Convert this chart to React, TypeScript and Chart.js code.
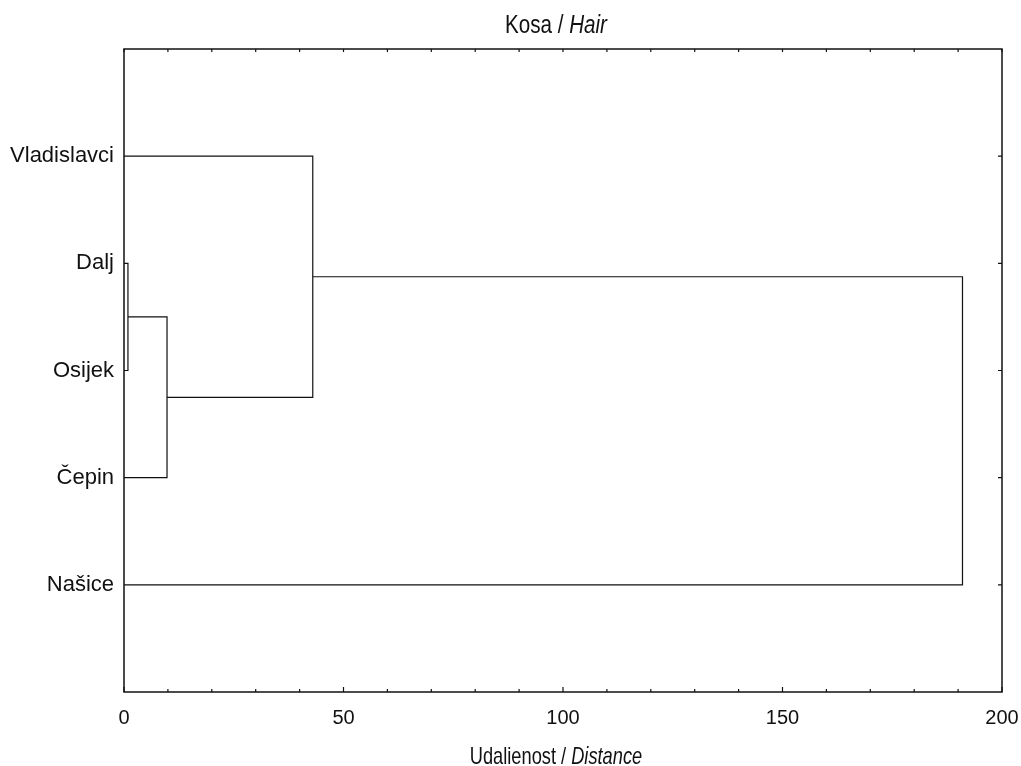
import React, { useEffect, useRef } from "react";
import { Chart, registerables } from "chart.js";

Chart.register(...registerables);

// ---- Data ----
const leafLabels = ["Vladislavci", "Dalj", "Osijek", "Čepin", "Našice"];
// Merge steps (indices: 0..4 = leaves, 5+ = merged clusters in order)
const mergeLeft = [1, 5, 0, 7];
const mergeRight = [2, 3, 6, 4];
const mergeHeight = [0.9, 9.8, 43, 191];
const xTickLabels = [0, 50, 100, 150, 200];
const xMinorStep = 10;
const titleRegular = "Kosa / ";
const titleItalic = "Hair";
const axisRegular = "Udalienost / ";
const axisItalic = "Distance";

const LINE = "#111";
const FONT = "'Liberation Sans', Arial, sans-serif";

function buildLinks() {
  const nodeX: number[] = leafLabels.map(() => 0);
  const nodeY: number[] = leafLabels.map((_, i) => i + 1);
  const links: { x: number; y: number }[][] = [];
  mergeHeight.forEach((h, k) => {
    const a = mergeLeft[k];
    const b = mergeRight[k];
    links.push([
      { x: nodeX[a], y: nodeY[a] },
      { x: h, y: nodeY[a] },
      { x: h, y: nodeY[b] },
      { x: nodeX[b], y: nodeY[b] },
    ]);
    nodeX.push(h);
    nodeY.push((nodeY[a] + nodeY[b]) / 2);
  });
  return links;
}

function drawMixed(
  ctx: CanvasRenderingContext2D,
  regular: string,
  italic: string,
  cx: number,
  baseline: number,
  size: number,
  sx: number
) {
  ctx.save();
  ctx.fillStyle = "#111";
  ctx.textBaseline = "alphabetic";
  ctx.textAlign = "left";
  const fr = `${size}px ${FONT}`;
  const fi = `italic ${size}px ${FONT}`;
  ctx.font = fr;
  const w1 = ctx.measureText(regular).width;
  ctx.font = fi;
  const w2 = ctx.measureText(italic).width;
  const total = (w1 + w2) * sx;
  ctx.translate(cx - total / 2, baseline);
  ctx.scale(sx, 1);
  ctx.font = fr;
  ctx.fillText(regular, 0, 0);
  ctx.font = fi;
  ctx.fillText(italic, w1, 0);
  ctx.restore();
}

const framePlugin = {
  id: "frameAndTitles",
  afterDatasetsDraw(chart: any) {
    const { ctx, chartArea } = chart;
    const { left, right, top, bottom } = chartArea;
    const xs = chart.scales.x;
    const ys = chart.scales.y;
    ctx.save();
    ctx.strokeStyle = LINE;
    ctx.lineWidth = 1.5;
    ctx.strokeRect(left, top, right - left, bottom - top);
    ctx.lineWidth = 1.2;
    ctx.beginPath();
    for (let v = xs.min; v <= xs.max + 1e-9; v += xMinorStep) {
      const px = xs.getPixelForValue(v);
      const major = xTickLabels.includes(v);
      const lenB = major ? 5 : 3;
      ctx.moveTo(px, bottom);
      ctx.lineTo(px, bottom - lenB);
      ctx.moveTo(px, top);
      ctx.lineTo(px, top + 3);
    }
    leafLabels.forEach((_, i) => {
      const py = ys.getPixelForValue(i + 1);
      ctx.moveTo(right, py);
      ctx.lineTo(right - 4, py);
    });
    ctx.stroke();
    ctx.restore();

    const cx = left + (right - left) * 0.492;
    drawMixed(ctx, titleRegular, titleItalic, cx, 33, 25, 0.825);
    drawMixed(ctx, axisRegular, axisItalic, cx, 764, 24, 0.76);
  },
};

export default function App() {
  const ref = useRef<HTMLCanvasElement | null>(null);

  useEffect(() => {
    if (!ref.current) return;
    const links = buildLinks();
    const chart = new Chart(ref.current, {
      type: "scatter",
      data: {
        datasets: links.map((pts) => ({
          data: pts,
          showLine: true,
          borderColor: LINE,
          borderWidth: 1.2,
          pointRadius: 0,
          fill: false,
          tension: 0,
        })),
      },
      options: {
        animation: false,
        responsive: false,
        events: [],
        layout: { padding: { left: 0, top: 49, right: 19, bottom: 0 } },
        plugins: {
          legend: { display: false },
          tooltip: { enabled: false },
          title: { display: false },
        },
        scales: {
          x: {
            type: "linear",
            min: 0,
            max: 200,
            grid: { display: false, drawTicks: false },
            border: { display: false },
            ticks: {
              stepSize: 50,
              color: "#111",
              padding: 14,
              font: { family: FONT, size: 20 },
              callback: (v: any) => (xTickLabels.includes(Number(v)) ? String(v) : ""),
            },
            afterFit: (s: any) => {
              s.height = 74;
              s.paddingLeft = 0;
              s.paddingRight = 0;
            },
          },
          y: {
            type: "linear",
            min: 0,
            max: leafLabels.length + 1,
            reverse: true,
            grid: { display: false, drawTicks: false },
            border: { display: false },
            ticks: {
              stepSize: 1,
              color: "#111",
              padding: 10,
              font: { family: FONT, size: 22 },
              callback: (v: any) => leafLabels[Number(v) - 1] ?? "",
            },
            afterFit: (s: any) => {
              s.width = 124;
              s.paddingTop = 0;
              s.paddingBottom = 0;
            },
          },
        },
      },
      plugins: [framePlugin],
    } as any);
    return () => chart.destroy();
  }, []);

  return (
    <div style={{ position: "absolute", left: 0, top: 0, width: 1021, height: 766, background: "#fff" }}>
      <canvas ref={ref} width={1021} height={766} style={{ display: "block" }} />
    </div>
  );
}
